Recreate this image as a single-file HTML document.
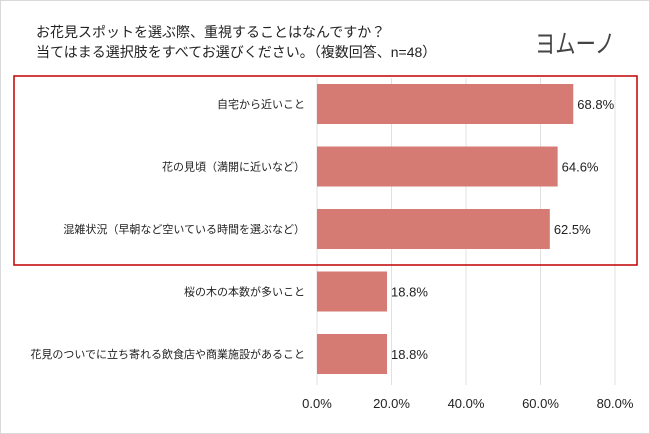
<!DOCTYPE html>
<html><head><meta charset="utf-8"><style>
body{margin:0;background:#fff;}
svg{display:block;font-family:"Liberation Sans","Noto Sans CJK JP",sans-serif;}
</style></head><body>
<svg id="c" width="650" height="434">
<rect x="0.5" y="0.5" width="649" height="433" fill="#fff" stroke="#d9d9d9"/>
<text x="36" y="37" font-size="14" fill="#222">お花見スポットを選ぶ際、重視することはなんですか？</text>
<text x="36" y="57" font-size="14" fill="#222">当てはまる選択肢をすべてお選びください。（複数回答、n=48）</text>
<text x="535" y="53" font-size="26" fill="#444" textLength="80" lengthAdjust="spacingAndGlyphs">ヨムーノ</text>
<g id="grid"></g>
<g id="bars"></g>
<rect x="14" y="76" width="623" height="189" fill="none" stroke="#c00000" stroke-width="1.5"/>
</svg>
<script>
const categories=["自宅から近いこと","花の見頃（満開に近いなど）","混雑状況（早朝など空いている時間を選ぶなど）","桜の木の本数が多いこと","花見のついでに立ち寄れる飲食店や商業施設があること"];
const values=[68.8,64.6,62.5,18.8,18.8];
const ticks=[0,20,40,60,80];
const NS="http://www.w3.org/2000/svg";
const x=v=>317+v*(298/80);
const y=i=>104+i*62.5;
function mk(t,a,p){const e=document.createElementNS(NS,t);for(const k in a)e.setAttribute(k,a[k]);p.appendChild(e);return e;}
const g=document.getElementById('grid'),b=document.getElementById('bars');
ticks.forEach(t=>{
 const l=mk('line',{x1:x(t),x2:x(t),y1:78,y2:385,stroke:'#e0e0e0'},g);
 
 
 const tx=mk('text',{x:x(t),y:408,'font-size':13,'text-anchor':'middle',fill:'#222'},g);
 tx.textContent=t.toFixed(1)+'%';
 
 
});
categories.forEach((c,i)=>{
 const r=mk('rect',{x:x(0),y:y(i)-20,width:x(values[i])-x(0),height:40,fill:'#d67a74'},b);
 
 
 const lb=mk('text',{x:305,y:y(i)+4,'font-size':11,'text-anchor':'end',fill:'#222'},b);
 lb.textContent=c;
 
 
 const v=mk('text',{x:x(values[i])+4,y:y(i)+5,'font-size':13,fill:'#222'},b);
 v.textContent=values[i].toFixed(1)+'%';
 
 
});
</script>
</body></html>
